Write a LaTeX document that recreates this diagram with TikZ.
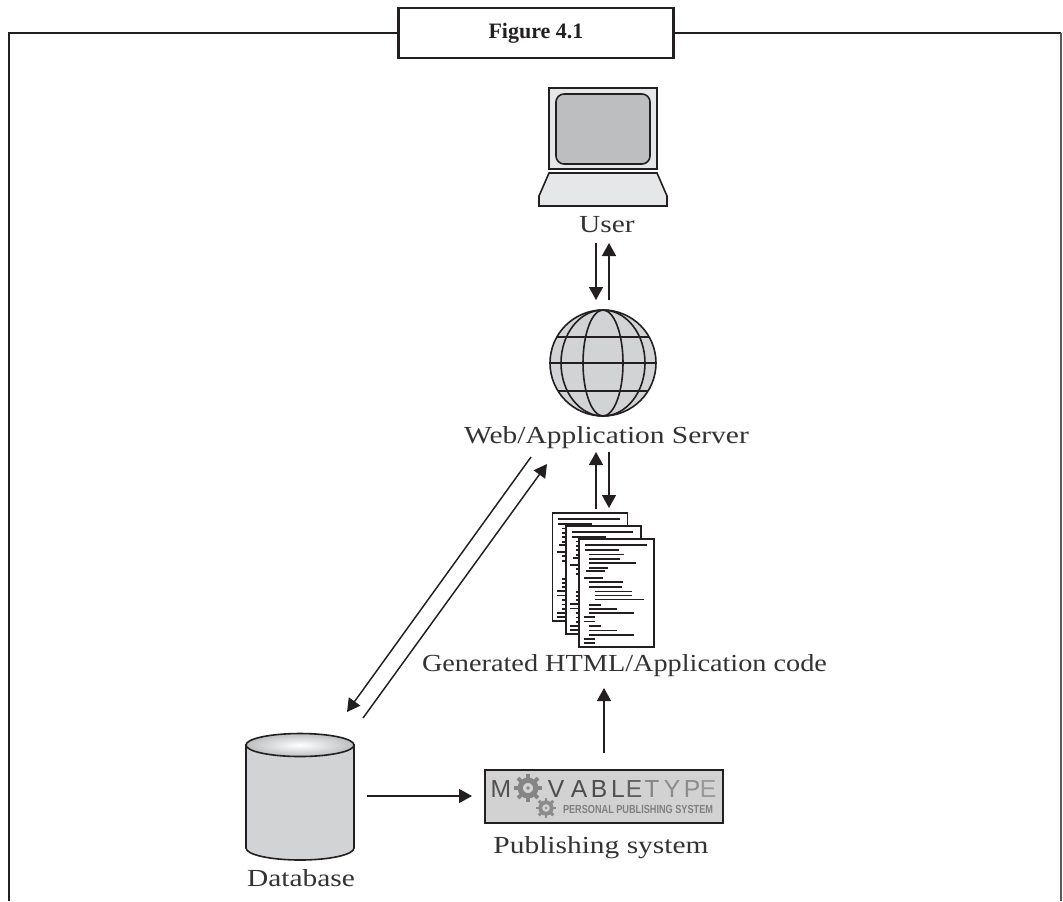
\documentclass[tikz,border=0pt]{standalone}
\usepackage{fontspec}
\setmainfont{Liberation Serif}[FakeStretch=1.2]
\newfontfamily\titlefont{Liberation Serif}
\newfontfamily\logofont{Liberation Sans}
\usetikzlibrary{arrows.meta,calc}
\definecolor{ink}{HTML}{231F20}
\definecolor{txt}{HTML}{333333}
\definecolor{lightg}{HTML}{E6E7E8}
\definecolor{midg}{HTML}{BCBEC0}
\definecolor{globeg}{HTML}{D1D3D4}
\definecolor{logobg}{HTML}{D2D2D2}
\tikzset{
  conn/.style={draw=ink,line width=1.1pt,-{Triangle[length=9.75pt,width=10.5pt]}},
  iconline/.style={draw=ink,line width=1.2pt},
  label/.style={text=txt,font=\fontsize{18.4}{20}\selectfont,anchor=base,inner sep=0pt},
  framerule/.style={draw=ink,line width=2.1pt},
  codeline/.style={draw=ink,line width=1.25pt},
  logoletter/.style={anchor=base,inner sep=0pt,font=\logofont\fontsize{18.5}{20}\selectfont},
  page/.style={draw=ink,fill=white,line width=1.3pt}
}
\newcommand{\codepage}[2]{%
  \begin{scope}[shift={(#1,#2)},x=0.25pt,y=-0.25pt]
    \draw[page] (177,118) rectangle (402,441);
    \foreach \yy/\xa/\xb in {135/195/380,150/195/297,163/207/313,176/207/300,188/207/348,204/207/264,213/198/256,233/191/248,246/207/308,261/207/307,274/224/337,286/224/337,298/224/371,314/207/242,326/207/291,339/207/341,351/191/225,364/191/225,378/207/242,391/207/291,404/207/341,416/191/225,428/191/225}
      \draw[codeline] (\xa,\yy) -- (\xb,\yy);
  \end{scope}}
\newcommand{\gearicon}[4]{%
  \foreach \ang in {0,45,...,315}
    \draw[#4,line width=0.3*#3*0.75pt] ($(#1,#2)+(\ang:0.7*#3)$) -- ($(#1,#2)+(\ang:1.08*#3)$);
  \draw[#4,line width=0.4*#3*0.75pt] (#1,#2) circle ({0.6*#3});
  \fill[#4] (#1,#2) circle ({0.14*#3});}
\begin{document}
\begin{tikzpicture}[x=0.75pt,y=-0.75pt]
\useasboundingbox (0,0) rectangle (1063,901);
% frame
\coordinate (fbl) at (9,901);
\coordinate (ftl) at (9,33);
\coordinate (ftr) at (1061,33);
\coordinate (fbr) at (1061,901);
\node[draw=ink,line width=1.8pt,minimum width=206.25pt,minimum height=37.5pt,inner sep=0pt,
  font=\titlefont\bfseries\fontsize{16.5}{18}\selectfont,text=ink] (title) at (536,33) {Figure 4.1};
\draw[framerule] (fbl) -- (ftl) -- (title.west |- ftl);
\draw[framerule] (title.east |- ftr) -- (ftr);
\draw[draw=ink!75,line width=1.3pt] (ftr) -- (fbr);

% laptop
\draw[iconline,fill=lightg] (549,88) rectangle (657,169);
\draw[iconline,fill=midg,rounded corners=6pt] (556,94) rectangle (650,164);
\draw[iconline,fill=lightg] (549,173) -- (657,173) -- (667,196) -- (667,206) -- (539,206) -- (539,196) -- cycle;
\node[label] (user) at (607,232) {User};

% globe
\coordinate (gc) at (603,363);
\fill[globeg] (gc) circle (53);
\begin{scope}
  \clip (gc) circle (53);
  \draw[iconline] (540,337) -- (670,337);
  \draw[iconline] (540,363) -- (670,363);
  \draw[iconline] (540,391) -- (670,391);
\end{scope}
\draw[iconline] (gc) ellipse (20 and 53);
\draw[iconline] (gc) ellipse (42 and 53);
\draw[iconline] (gc) circle (53);
\node[label] (web) at (606.5,443) {Web/Application Server};

% documents
\codepage{520-26.6}{500-26}
\codepage{520-13.3}{500-13}
\codepage{520}{500}
\node[label,xscale=0.96] (html) at (624.5,671) {Generated HTML/Application code};

% database
\path[fill=globeg,draw=ink,line width=1.2pt] (246,745) -- (246,848) arc[start angle=180,end angle=0,x radius=54,y radius=12] -- (354,745) -- cycle;
\draw[iconline,inner color=white,outer color=midg] (300,745) ellipse (54 and 11.5);
\node[label] (db) at (301,886) {Database};

% logo
\node[draw=ink,line width=1.6pt,fill=logobg,minimum width=178.5pt,minimum height=39.75pt,inner sep=0pt] (logo) at (604,796.5) {};
\node[logoletter,text=black!68] at (501,797) {M};
\gearicon{528}{788}{13}{black!48}
\gearicon{546}{808}{9.5}{black!45}
\node[logoletter,text=black!70] at (556,797) {V};
\node[logoletter,text=black!70] at (579,797) {A};
\node[logoletter,text=black!70] at (599,797) {B};
\node[logoletter,text=black!68] at (618,797) {L};
\node[logoletter,text=black!62] at (634,797) {E};
\node[logoletter,text=black!48] at (652,797) {T};
\node[logoletter,text=black!45] at (672,797) {Y};
\node[logoletter,text=black!45] at (692,797) {P};
\node[logoletter,text=black!40] at (708,797) {E};
\node[anchor=base,inner sep=0pt,text=black!50,xscale=0.78,font=\logofont\bfseries\fontsize{8.8}{10}\selectfont] (tag) at (638,813) {PERSONAL PUBLISHING SYSTEM};
\node[label] (pub) at (601,853) {Publishing system};

% connector ends
\coordinate (ua) at (596,243); \coordinate (ub) at (596,300);
\coordinate (uc) at (609,300); \coordinate (ud) at (609,243);
\coordinate (ha) at (596,509); \coordinate (hb) at (596,452);
\coordinate (hc) at (609,452); \coordinate (hd) at (609,508);
\coordinate (da) at (531,457); \coordinate (db2) at (347,712);
\coordinate (dc) at (363,718); \coordinate (dd) at (547,464);
\coordinate (pa) at (604,753); \coordinate (pb) at (604,688);
\coordinate (la) at (367,796); \coordinate (lb) at (472,796);
\draw[conn] (ua) -- (ub);
\draw[conn] (uc) -- (ud);
\draw[conn] (ha) -- (hb);
\draw[conn] (hc) -- (hd);
\draw[conn] (da) -- (db2);
\draw[conn] (dc) -- (dd);
\draw[conn] (pa) -- (pb);
\draw[conn] (la) -- (lb);
\end{tikzpicture}
\end{document}
